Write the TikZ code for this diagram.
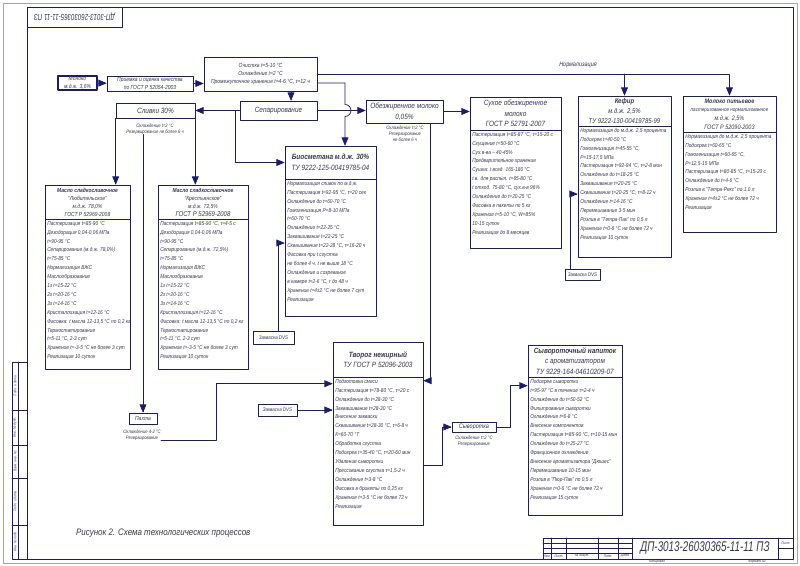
\documentclass[tikz,border=0pt]{standalone}
\usepackage{fontspec}
\setmainfont{Liberation Sans}[FakeStretch=0.85]
\newfontfamily\gost{Liberation Sans}[FakeStretch=0.7]
\usetikzlibrary{arrows,fit}
\definecolor{lineblue}{RGB}{28,28,105}
\definecolor{txtgray}{RGB}{55,55,75}
\tikzset{
  frm/.style={draw=lineblue,line width=0.5pt,inner sep=0pt},
  ttl/.style={inner sep=0pt,text=txtgray,align=center,font=\fontsize{5}{6.5}\selectfont\itshape},
  hbig/.style={font=\fontsize{6.5}{9}\selectfont\itshape},
  lst/.style={anchor=north west,inner sep=2pt,align=left,text=txtgray,font=\fontsize{4.8}{7.6}\selectfont\itshape},
  rem/.style={inner sep=0pt,align=center,text=txtgray,font=\fontsize{4.2}{5.2}\selectfont\itshape},
  tiny/.style={inner sep=0pt,text=txtgray,font=\fontsize{3.2}{3.8}\selectfont\itshape},
  flow/.style={lineblue,line width=0.6pt,->},
}

\begin{document}
\begin{tikzpicture}[line cap=round,line join=round,>=triangle 45,x=0.03cm,y=-0.03cm]
\useasboundingbox (0,0) rectangle (800,566);
% frame
\draw[gray!70,line width=0.4pt] (3,3) rectangle (797,563);
\draw[lineblue,line width=0.8pt] (27,7) rectangle (793,559);
\draw[lineblue,line width=0.6pt] (12,362) rectangle (27,559);
\draw[lineblue,line width=0.6pt] (18,362) -- (18,559);
\foreach \yy in {410,445,478,525} \draw[lineblue,line width=0.6pt] (12,\yy) -- (27,\yy);
\node[tiny,rotate=90] (s1) at (15,541.5) {Инв. № подл.};
\node[tiny,rotate=90] (s2) at (15,501.5) {Подп. и дата};
\node[tiny,rotate=90] (s3) at (15,461.5) {Взам. инв. №};
\node[tiny,rotate=90] (s4) at (15,427.5) {Инв. № дубл.};
\node[tiny,rotate=90] (s5) at (15,386) {Подп. и дата};
\draw[lineblue,line width=0.6pt] (27,7) rectangle (122,27);
\node[rotate=180,text=txtgray,font=\gost\fontsize{7.5}{8}\selectfont\itshape] (stamp) at (74.5,17) {ДП-3013-26030365-11-11 ПЗ};
% title block
\draw[lineblue,line width=0.6pt] (543,559) -- (543,538) -- (793,538);
\foreach \xx in {551,566,598,618,632,778} \draw[lineblue,line width=0.6pt] (\xx,538) -- (\xx,559);
\foreach \yy in {543,548,553} \draw[lineblue,line width=0.4pt] (543,\yy) -- (632,\yy);
\draw[lineblue,line width=0.6pt] (778,548) -- (793,548);
\node[tiny] (t1) at (547,556) {Изм.};
\node[tiny] (t2) at (558.5,556) {Лист};
\node[tiny] (t3) at (582,556) {№ докум.};
\node[tiny] (t4) at (608,556) {Подп.};
\node[tiny] (t5) at (625,556) {Дата};
\node[tiny] (t6) at (785.5,543) {Лист};
\node[text=txtgray,font=\gost\fontsize{12}{12}\selectfont\itshape] (code) at (705,548) {ДП-3013-26030365-11-11 ПЗ};
\node[tiny] (kop) at (657,562) {Копировал};
\node[tiny] (fmt) at (757,562) {Формат A2};
\node[anchor=west,text=txtgray,font=\fontsize{8}{9}\selectfont\itshape] (capt) at (72,533) {Рисунок 2. Схема технологических процессов};

% raw milk
\node[frm,line width=0.9pt,fit={(58,76)(97,90)}] (milk) {};
\node[ttl] (milkl) at (milk.center) {Молоко\\м.д.ж. 3,6\%};
\node[frm,fit={(107,76)(193,91)}] (recv) {};
\node[ttl] (recvl) at (recv.center) {Приемка и оценка качества\\по ГОСТ Р 52054-2003};
\node[frm,fit={(204,57)(317,91)}] (clean) {};
\node[ttl] (cleanl) at (clean.center) {Очистка t=5-10 °С\\Охлаждение t=2 °С\\Промежуточное хранение t=4-6 °С, τ=12 ч};
\node[frm,fit={(240,101)(317,120)}] (sep) {};
\node[ttl,hbig] (sepl) at (sep.center) {Сепарирование};
\node[frm,fit={(116,103)(195,118)}] (slv) {};
\node[ttl,hbig] (slvl) at (slv.center) {Сливки 30\%};
\node[rem] (slvn) at (155,129) {Охлаждение t=2 °С\\Резервирование не более 6 ч};
\node[frm,fit={(366,100)(443,123)}] (obz) {};
\node[ttl,hbig] (obzl) at (obz.center) {Обезжиренное молоко\\0,05\%};
\node[rem] (obzn) at (405,134) {Охлаждение t=2 °С\\Резервирование\\не более 6 ч};
\node[text=txtgray,inner sep=0pt,font=\fontsize{5.5}{6}\selectfont\itshape] (norm) at (578,65) {Нормализация};

% butter
\node[frm,fit={(45,185)(130,219)}] (lubh) {};
\node[ttl,font=\fontsize{5}{6.8}\selectfont\itshape] (lubl) at (lubh.center) {\textbf{Масло сладкосливочное}\\"Любительское"\\м.д.ж. 78,0\%\\ГОСТ Р 52969-2008};
\node[frm,fit={(45,219)(130,369)}] (lubb) {};
\node[lst] (lubt) at (lubb.north west) {Пастеризация t=85-90 °С\\Дезодорация 0,04-0,06 МПа\\t=90-95 °С\\Сепарирование (м.д.ж. 78,0\%)\\t=75-85 °С\\Нормализация ВЖС\\Маслообразование\\1з t=15-22 °С\\2з t=20-16 °С\\3з t=14-16 °С\\Кристаллизация t=12-16 °С\\Фасовка: t масла 12-13,5 °С по 0,2 кг\\Термостатирование\\t=5-11 °С, 2-3 сут\\Хранение t=-3-5 °С не более 3 сут\\Реализация 10 суток};
\node[frm,fit={(158,185)(248,219)}] (krh) {};
\node[ttl,font=\fontsize{5}{6.8}\selectfont\itshape] (krl) at (krh.center) {\textbf{Масло сладкосливочное}\\"Крестьянское"\\м.д.ж. 72,5\%\\\fontsize{6}{6.8}\selectfont ГОСТ Р 52969-2008};
\node[frm,fit={(158,219)(248,369)}] (krb) {};
\node[lst] (krt) at (krb.north west) {Пастеризация t=85-90 °С, τ=4-5 с\\Дезодорация 0,04-0,06 МПа\\t=90-95 °С\\Сепарирование (м.д.ж. 72,5\%)\\t=75-85 °С\\Нормализация ВЖС\\Маслообразование\\1з t=15-22 °С\\2з t=20-16 °С\\3з t=14-16 °С\\Кристаллизация t=12-16 °С\\Фасовка: t масла 12-13,5 °С по 0,2 кг\\Термостатирование\\t=5-11 °С, 2-3 сут\\Хранение t=-3-5 °С не более 3 сут\\Реализация 10 суток};
\node[frm,fit={(129,413)(157,424)}] (pahta) {};
\node[ttl] (pahtal) at (pahta.center) {Пахта};
\node[rem] (pahn) at (142,435) {Охлаждение 4-2 °С\\Резервирование};

% sour cream
\node[frm,fit={(285,146)(376,179)}] (bioh) {};
\node[ttl,hbig] (biol) at (bioh.center) {\textbf{Биосметана м.д.ж. 30\%}\\ТУ 9222-125-00419785-04};
\node[frm,fit={(285,179)(376,316)}] (biob) {};
\node[lst] (biot) at (biob.north west) {Нормализация сливок по м.д.ж.\\Пастеризация t=92-95 °С, τ=20 сек\\Охлаждение до t=60-70 °С\\Гомогенизация P=8-10 МПа\\t=60-70 °С\\Охлаждение t=22-25 °С\\Заквашивание t=22-25 °С\\Сквашивание t=22-28 °С, τ=16-20 ч\\Фасовка при t сгустка\\не более 4 ч, t не выше 18 °С\\Охлаждение и созревание\\в камере t=2-6 °С, τ до 48 ч\\Хранение t=4±2 °С не более 7 сут\\Реализация};
\node[frm,fit={(253,331)(294,344)}] (zak1) {};
\node[ttl,font=\fontsize{4.5}{5}\selectfont\itshape] (zak1l) at (zak1.center) {Закваска DVS};

% dry skim milk
\node[frm,fit={(470,97)(561,130)}] (suhh) {};
\node[ttl,hbig] (suhl) at (suhh.center) {Сухое обезжиренное\\молоко\\ГОСТ Р 52791-2007};
\node[frm,fit={(470,130)(561,248)}] (suhb) {};
\node[lst] (suht) at (suhb.north west) {Пастеризация t=85-87 °С, τ=15-20 с\\Сгущение t=50-60 °С\\Сух.в-ва -- 40-45\%\\Предварительное хранение\\Сушка: t возд. 165-180 °С\\t в. для распыл. t=65-80 °С\\t отход. 75-80 °С, сух.в-в 96\%\\Охлаждение до t=20-25 °С\\Фасовка в пакеты по 5 кг\\Хранение t=5-10 °С, W=85\%\\10-15 суток\\Реализация до 8 месяцев};

% kefir
\node[frm,fit={(578,96)(671,126)}] (kefh) {};
\node[ttl,font=\fontsize{6}{8.2}\selectfont\itshape] (kefl) at (kefh.center) {\textbf{Кефир}\\м.д.ж. 2,5\%\\ТУ 9222-130-00419785-99};
\node[frm,fit={(578,126)(671,257)}] (kefb) {};
\node[lst] (keft) at (kefb.north west) {Нормализация до м.д.ж. 2,5 процента\\Подогрев t=40-50 °С\\Гомогенизация t=45-55 °С,\\Р=15-17,5 МПа\\Пастеризация t=92-94 °С, τ=2-8 мин\\Охлаждение до t=18-25 °С\\Заквашивание t=20-25 °С\\Сквашивание t=20-25 °С, τ=8-12 ч\\Охлаждение t=14-16 °С\\Перемешивание 3-5 мин\\Розлив в "Тетра-Пак" по 0,5 л\\Хранение t=0-6 °С не более 72 ч\\Реализация 10 суток};
\node[frm,fit={(565,269)(600,280)}] (zak2) {};
\node[ttl,font=\fontsize{4.5}{5}\selectfont\itshape] (zak2l) at (zak2.center) {Закваска DVS};

% drinking milk
\node[frm,fit={(683,96)(776,132)}] (pith) {};
\node[ttl,font=\fontsize{5.5}{7.5}\selectfont\itshape] (pitl) at (pith.center) {\textbf{Молоко питьевое}\\{\fontsize{4.6}{7.5}\selectfont пастеризованное нормализованное}\\м.д.ж. 2,5\%\\ГОСТ Р 52090-2003};
\node[frm,fit={(683,132)(776,232)}] (pitb) {};
\node[lst] (pitt) at (pitb.north west) {Нормализация до м.д.ж. 2,5 процента\\Подогрев t=60-65 °С\\Гомогенизация t=60-65 °С,\\P=12,5-15 МПа\\Пастеризация t=80-85 °С, τ=15-20 с\\Охлаждение до t=4-6 °С\\Розлив в "Тетра-Рекс" по 1,0 л\\Хранение t=4±2 °С не более 72 ч\\Реализация};

% curd
\node[frm,fit={(333,342)(423,377)}] (tvh) {};
\node[ttl,hbig] (tvl) at (tvh.center) {\textbf{Творог нежирный}\\ТУ ГОСТ Р 52096-2003};
\node[frm,fit={(333,377)(423,525)}] (tvb) {};
\node[lst] (tvt) at (tvb.north west) {Подготовка смеси\\Пастеризация t=78-80 °С, τ=20 с\\Охлаждение до t=28-30 °С\\Заквашивание t=28-30 °С\\Внесение закваски\\Сквашивание t=28-30 °С, τ=6-8 ч\\К=60-70 °Т\\Обработка сгустка\\Подогрев t=35-40 °С, τ=20-60 мин\\Удаление сыворотки\\Прессование сгустка τ=1,5-2 ч\\Охлаждение t=3-8 °С\\Фасовка в брикеты по 0,25 кг\\Хранение t=3-5 °С не более 72 ч\\Реализация};
\node[frm,fit={(258,404)(297,416)}] (zak3) {};
\node[ttl,font=\fontsize{4.5}{5}\selectfont\itshape] (zak3l) at (zak3.center) {Закваска DVS};
\node[frm,fit={(452,422)(496,432)}] (syv) {};
\node[ttl,font=\fontsize{5.5}{6}\selectfont\itshape] (syvl) at (syv.center) {Сыворотка};
\node[rem] (syvn) at (474,441) {Охлаждение t=2 °С\\Резервирование};

% whey drink
\node[frm,fit={(528,345)(622,377)}] (naph) {};
\node[ttl,hbig] (napl) at (naph.center) {\textbf{Сывороточный напиток}\\с ароматизатором\\ТУ 9229-164-04610209-07};
\node[frm,fit={(528,377)(622,515)}] (napb) {};
\node[lst] (napt) at (napb.north west) {Подогрев сыворотки\\t=95-97 °С в течение τ=2-4 ч\\Охлаждение до t=50-52 °С\\Фильтрование сыворотки\\Охлаждение t=6-8 °С\\Внесение компонентов\\Пастеризация t=85-90 °С, τ=10-15 мин\\Охлаждение до t=25-27 °С\\Фракционное охлаждение\\Внесение ароматизатора "Дюшес"\\Перемешивание 10-15 мин\\Розлив в "Пюр-Пак" по 0,5 л\\Хранение t=0-6 °С не более 72 ч\\Реализация 15 суток};

% routing points
\coordinate (xa) at (291,0);
\coordinate (xb) at (235,110.5);
\coordinate (xc) at (345,83);
\coordinate (xd) at (430,0);
\coordinate (xf) at (216,440);
\coordinate (xg) at (278,243);
\coordinate (xh) at (570,194);
\coordinate (xi) at (442,465);
\coordinate (xj) at (510,0);

% connectors
\draw[flow] (milk) -- (recv);
\draw[flow] (recv) -- (clean.west |- recv);
\draw[flow] (clean.south -| xa) -- (sep.north -| xa);
\draw[flow] (sep.west) -- (slv.east |- sep.west);
\draw[flow] (xb) |- (bioh.west);
\draw[flow] (sep.east) -- (obz.west |- sep.east);
\draw[flow] (clean.east |- xc) -- (xc) -- (345,104.5) arc[start angle=-90,end angle=90,radius=6] -- (bioh.north -| xc);
\draw[flow] (clean.east) -| (pith.north);
\draw[flow] (kefh.north |- clean.east) -- (kefh.north);
\draw[flow] (slv.south west) -- (slv.south west |- lubh.north);
\draw[flow] (slv.south east) -- (slv.south east |- krh.north);
\draw[flow] (pahta.north |- slvn.south) -- (pahta.north);
\draw[flow] (pahn.east |- xf) -- (xf) |- ([yshift=-0.21cm]tvb.north west);
\draw[flow] (zak3.east) -- (tvb.west |- zak3.east);
\draw[flow] (zak1.north -| xg) -- (xg) -- (biob.west |- xg);
\draw[flow] (obz.east) -- (suhh.west |- obz.east);
\draw[flow] (obz.south -| xd) |- ([yshift=-0.12cm]tvb.north east);
\draw[flow] (zak2.north -| xh) -- (xh) -- (kefb.west |- xh);
\draw[flow] (tvb.east |- xi) -- (xi) |- (syv.west);
\draw[flow] (syv.east) -- (syv.east -| xj) |- ([yshift=-0.27cm]napb.north west);
\end{tikzpicture}
\end{document}
